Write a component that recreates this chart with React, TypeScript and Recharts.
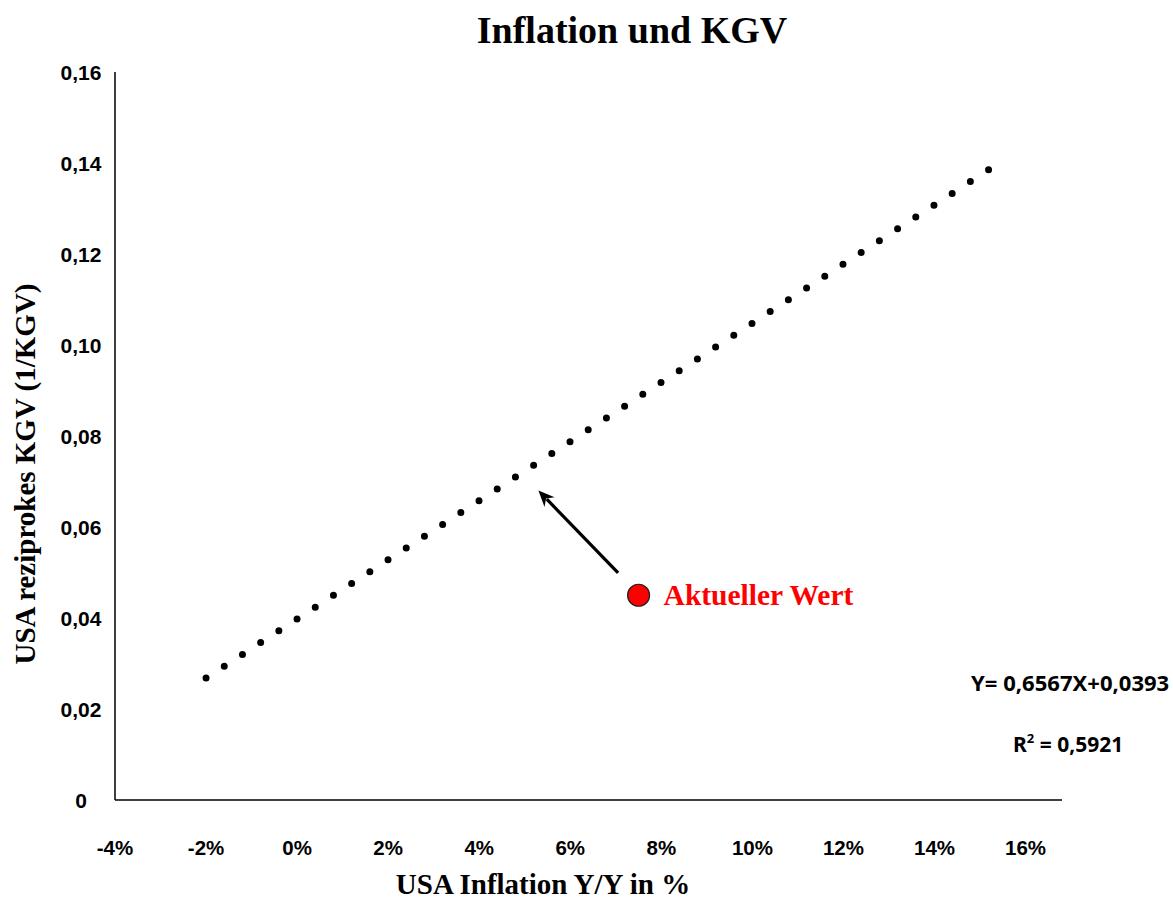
import {
  ComposedChart,
  XAxis,
  YAxis,
  Line,
  Scatter,
  ReferenceLine,
} from "recharts";

// trend line endpoints (inflation %, 1/KGV)
const trendPoints = [
  { x: -2, y: 0.0268 },
  { x: 15.2, y: 0.1386 },
];

// current value
const currentPoint = [{ x: 7.5, y: 0.045 }];
const currentLabel = "Aktueller Wert";

// arrow from the current value towards the trend line
const arrowFrom = { x: 7.05, y: 0.0499 };
const arrowTo = { x: 5.3, y: 0.068 };

const xTicks = [-4, -2, 0, 2, 4, 6, 8, 10, 12, 14, 16];
const yTicks = [0, 0.02, 0.04, 0.06, 0.08, 0.1, 0.12, 0.14, 0.16];

const title = "Inflation und KGV";
const xTitle = "USA Inflation Y/Y in %";
const yTitle = "USA reziprokes KGV (1/KGV)";
const equation = "Y= 0,6567X+0,0393";
const rSquared = "0,5921";

const W = 1173;
const H = 899;
const sans = "'Liberation Sans', Arial, sans-serif";
const serif = "'Liberation Serif', 'Times New Roman', serif";
const noteFont = "'Noto Sans', sans-serif";

const fmtY = (v: number) => (v === 0 ? "0" : v.toFixed(2).replace(".", ","));

const YTick = (props: any) => (
  <text
    x={81}
    y={props.y}
    textAnchor="middle"
    dominantBaseline="central"
    fontFamily={sans}
    fontWeight="bold"
    fontSize={21}
    fill="#000"
  >
    {fmtY(props.payload.value)}
  </text>
);

const XTick = (props: any) => (
  <text
    x={props.x}
    y={847}
    textAnchor="middle"
    dominantBaseline="central"
    fontFamily={sans}
    fontWeight="bold"
    fontSize={20.5}
    fill="#000"
  >
    {props.payload.value + "%"}
  </text>
);

const CurrentShape = (props: any) => {
  const { cx, cy } = props;
  return (
    <g>
      <circle cx={cx} cy={cy} r={11} fill="#ff0000" stroke="#222" strokeWidth={1.2} />
      <text
        x={cx + 25}
        y={cy}
        dominantBaseline="central"
        fontFamily={serif}
        fontWeight="bold"
        fontSize={29.5}
        fill="#ff0000"
      >
        {currentLabel}
      </text>
    </g>
  );
};

const ArrowShape = (props: any) => {
  const { x1, y1, x2, y2 } = props;
  if (x1 == null) return null;
  const ang = Math.atan2(y2 - y1, x2 - x1);
  const len = 16;
  const half = 7;
  const bx = x2 - len * Math.cos(ang);
  const by = y2 - len * Math.sin(ang);
  const px = -Math.sin(ang) * half;
  const py = Math.cos(ang) * half;
  return (
    <g>
      <line x1={x1} y1={y1} x2={bx + 4 * Math.cos(ang)} y2={by + 4 * Math.sin(ang)} stroke="#000" strokeWidth={3.2} />
      <path
        d={`M${x2},${y2} L${bx + px},${by + py} L${bx + 5 * Math.cos(ang)},${by + 5 * Math.sin(ang)} L${bx - px},${by - py} Z`}
        fill="#000"
      />
    </g>
  );
};

export default function App() {
  return (
    <div style={{ position: "absolute", left: 0, top: 0, width: W, height: H, background: "#fff", overflow: "hidden" }}>
      <ComposedChart width={W} height={H} margin={{ top: 72, right: 111, bottom: 0, left: 0 }}>
        <XAxis
          type="number"
          dataKey="x"
          domain={[-4, 16.8]}
          ticks={xTicks}
          tick={<XTick />}
          tickLine={false}
          axisLine={{ stroke: "#000", strokeWidth: 1.5 }}
          height={99}
          allowDataOverflow
        />
        <YAxis
          type="number"
          dataKey="y"
          domain={[0, 0.16]}
          ticks={yTicks}
          tick={<YTick />}
          tickLine={false}
          axisLine={{ stroke: "#000", strokeWidth: 1.5 }}
          width={115}
        />
        <Line
          data={trendPoints}
          dataKey="y"
          stroke="#000"
          strokeWidth={7}
          strokeLinecap="round"
          strokeDasharray="0 21.7"
          dot={false}
          activeDot={false}
          isAnimationActive={false}
        />
        <ReferenceLine
          segment={[arrowFrom, arrowTo]}
          shape={<ArrowShape />}
          ifOverflow="visible"
        />
        <Scatter data={currentPoint} dataKey="y" shape={<CurrentShape />} isAnimationActive={false} />
      </ComposedChart>

      <div
        style={{
          position: "absolute", top: 6, left: 0, width: 1264, textAlign: "center",
          fontFamily: serif, fontWeight: "bold", fontSize: 38, lineHeight: "48px",
        }}
      >
        {title}
      </div>
      <div
        style={{
          position: "absolute", top: 874, left: 0, width: 1086, textAlign: "center",
          fontFamily: serif, fontWeight: "bold", fontSize: 29, lineHeight: "20px",
        }}
      >
        {xTitle}
      </div>
      <div
        style={{
          position: "absolute", left: 25 - 250, top: 474 - 18, width: 500, textAlign: "center",
          transform: "rotate(-90deg)", fontFamily: serif, fontWeight: "bold", fontSize: 29,
          lineHeight: "36px", whiteSpace: "nowrap",
        }}
      >
        {yTitle}
      </div>
      <div
        style={{
          position: "absolute", left: 971, top: 670, fontFamily: noteFont,
          fontWeight: "bold", fontSize: 21, lineHeight: "26px", whiteSpace: "nowrap",
          transform: "scaleX(1.05)", transformOrigin: "left center",
        }}
      >
        {equation}
      </div>
      <div
        style={{
          position: "absolute", left: 1013, top: 731, fontFamily: noteFont,
          fontWeight: "bold", fontSize: 21, lineHeight: "26px", whiteSpace: "nowrap",
        }}
      >
        R<sup style={{ fontSize: 13, verticalAlign: "9px", lineHeight: 0 }}>2</sup> = {rSquared}
      </div>
    </div>
  );
}
